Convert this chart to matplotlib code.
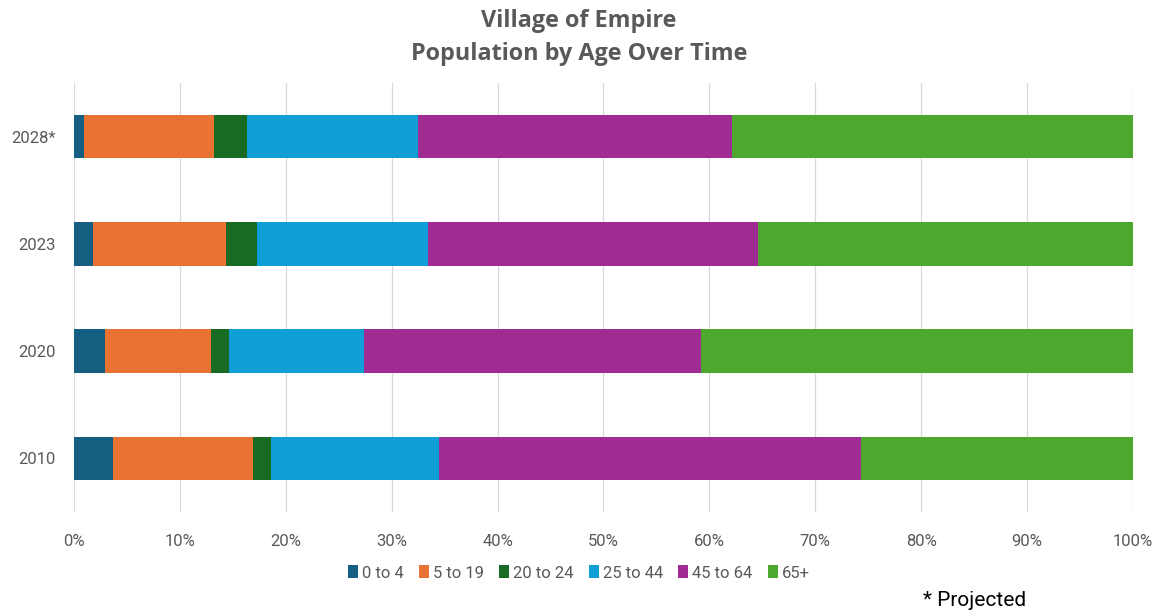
import matplotlib.pyplot as plt
import numpy as np

# population share (%) by age group, bottom row first
years = ['2010', '2020', '2023', '2028*']
age_groups = ['0 to 4', '5 to 19', '20 to 24', '25 to 44', '45 to 64', '65+']
age_0_4 = [3.7, 2.9, 1.8, 0.9]
age_5_19 = [13.2, 10.0, 12.6, 12.3]
age_20_24 = [1.7, 1.7, 2.9, 3.1]
age_25_44 = [15.9, 12.8, 16.1, 16.2]
age_45_64 = [39.8, 31.8, 31.2, 29.6]
age_65_up = [25.7, 40.8, 35.4, 37.9]

colors = ['#156082', '#E97132', '#196B24', '#0F9ED5', '#A02B93', '#4EA72E']
series = [age_0_4, age_5_19, age_20_24, age_25_44, age_45_64, age_65_up]

fig = plt.figure(figsize=(11.58, 6.11), dpi=100)
ax = fig.add_axes([0.0639, 0.162, 0.9145, 0.702])

y = np.arange(len(years))
left = np.zeros(len(years))
for vals, name, c in zip(series, age_groups, colors):
    vals = np.array(vals)
    ax.barh(y, vals, left=left, height=0.405, color=c, label=name, zorder=3)
    left += vals

ax.set_xlim(0, 100)
ax.set_ylim(-0.5, 3.5)
ax.set_xticks(range(0, 101, 10))
ax.set_xticklabels([f'{t}%' for t in range(0, 101, 10)])
ax.set_yticks(y)
ax.set_yticklabels(years)
ax.grid(axis='x', color='#D9D9D9', linewidth=0.9, zorder=0)
for s in ax.spines.values():
    s.set_visible(False)
ax.tick_params(length=0, labelsize=12, labelcolor='#595959')
ax.tick_params(axis='x', pad=16)
ax.tick_params(axis='y', pad=13)
for lab in ax.get_xticklabels() + ax.get_yticklabels():
    lab.set_family('Roboto')

fig.suptitle('Village of Empire\nPopulation by Age Over Time', y=0.985,
             fontsize=16.8, fontweight='bold', color='#595959',
             family='Open Sans', linespacing=1.5)

leg = fig.legend(loc='center', bbox_to_anchor=(0.5, 1 - 573 / 611), ncol=6, frameon=False,
                 handlelength=0.6, handleheight=0.8, handletextpad=0.25,
                 columnspacing=0.9, prop={'family': 'Roboto', 'size': 12})
for t in leg.get_texts():
    t.set_color('#595959')

fig.text(0.797, 1 - 600 / 611, '* Projected', fontsize=15, family='Roboto',
         color='black', va='center')

fig.savefig('out.png', dpi=100)
